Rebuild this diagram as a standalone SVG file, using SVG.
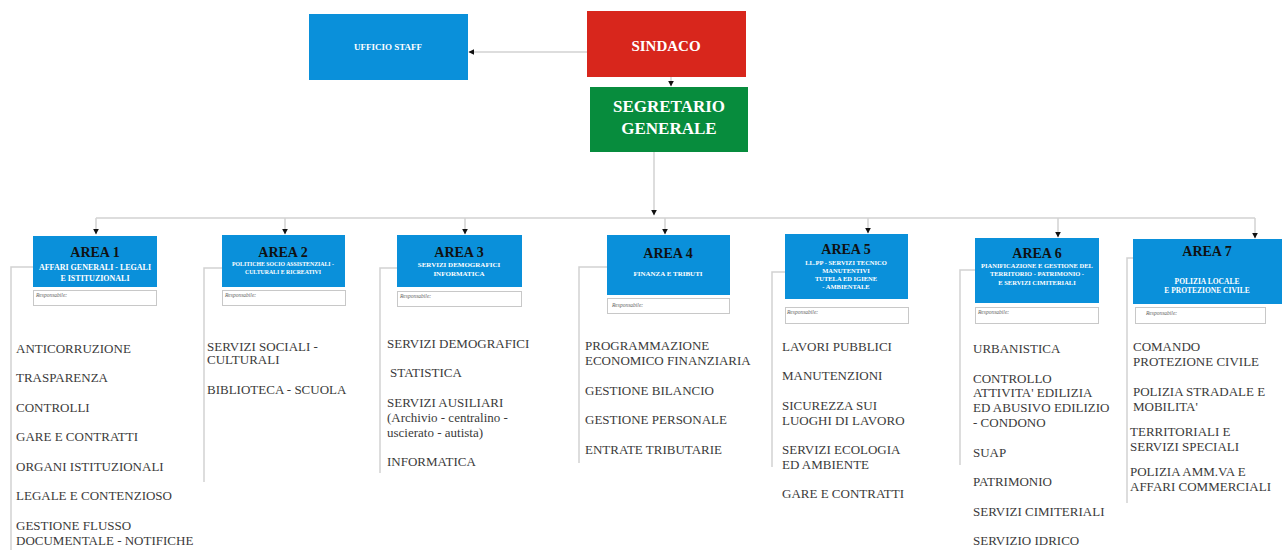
<svg xmlns="http://www.w3.org/2000/svg" width="1282" height="555" viewBox="0 0 1282 555">
<style>
.blue{fill:#0a90da}
.hdr{font-family:"Liberation Serif",serif;font-weight:bold;fill:#fff;text-anchor:middle}
.area{font-family:"Liberation Serif",serif;font-weight:bold;font-size:14px;fill:#111;text-anchor:middle}
.sub{font-family:"Liberation Serif",serif;font-weight:bold;fill:#fff;text-anchor:middle}
.resp{fill:#fff;stroke:#c8c8c8;stroke-width:1}
.rt{font-family:"Liberation Serif",serif;font-style:italic;font-size:5.5px;fill:#666}
.it{font-family:"Liberation Serif",serif;font-size:13px;fill:#3a3a3a}
.ln{fill:none;stroke:#d2d2d2;stroke-width:1.5}
.ar{fill:none;stroke:#d2d2d2;stroke-width:1.5;marker-end:url(#ah)}
</style>
<defs>
<marker id="ah" viewBox="0 0 10 10" refX="9" refY="5" markerWidth="6" markerHeight="6" markerUnits="userSpaceOnUse" orient="auto">
<path d="M0,0 L10,5 L0,10 Z" fill="#111"/>
</marker>
</defs>
<rect width="1282" height="555" fill="#fff"/>

<g id="connectors">
<path class="ar" d="M587,52 H469"/>
<path class="ar" d="M671,77 V86"/>
<path class="ar" d="M654,152 V215"/>
<path class="ln" d="M96,218 H1255"/>
<path class="ar" d="M96,218 V234"/>
<path class="ar" d="M285,218 V234"/>
<path class="ar" d="M465,218 V234"/>
<path class="ar" d="M665,218 V234"/>
<path class="ar" d="M868,218 V233"/>
<path class="ar" d="M1058,218 V237"/>
<path class="ar" d="M1255,218 V238"/>
<path class="ln" d="M33,267 H11 V550"/>
<path class="ln" d="M222,268 H204 V482"/>
<path class="ln" d="M397,268 H380 V473"/>
<path class="ln" d="M607,267 H579 V463"/>
<path class="ln" d="M785,272 H772 V467"/>
<path class="ln" d="M975,270 H960 V465"/>
<path class="ln" d="M1133,258 H1127 V503"/>
</g>

<g id="ufficio-staff">
<rect class="blue" x="309" y="14" width="159" height="66"/>
<text class="hdr" x="388" y="50" font-size="9">UFFICIO STAFF</text>
</g>
<g id="sindaco">
<rect x="587" y="11" width="159" height="66" fill="#d8261c"/>
<text class="hdr" x="666" y="51" font-size="15">SINDACO</text>
</g>
<g id="segretario">
<rect x="590" y="87" width="158" height="65" fill="#078c3d"/>
<text class="hdr" x="669" y="112" font-size="17">SEGRETARIO</text>
<text class="hdr" x="669" y="134" font-size="17">GENERALE</text>
</g>

<g id="area1">
<rect class="blue" x="33" y="236" width="124" height="51"/>
<text class="area" x="95" y="257">AREA 1</text>
<text class="sub" x="95" y="270" font-size="8">AFFARI GENERALI - LEGALI</text>
<text class="sub" x="95" y="281" font-size="8">E ISTITUZIONALI</text>
<rect class="resp" x="33.5" y="290.5" width="123" height="15"/>
<text class="rt" x="36" y="297">Responsabile:</text>
<text class="it" x="16" y="353">ANTICORRUZIONE</text>
<text class="it" x="16" y="382">TRASPARENZA</text>
<text class="it" x="16" y="412">CONTROLLI</text>
<text class="it" x="16" y="441">GARE E CONTRATTI</text>
<text class="it" x="16" y="471">ORGANI ISTITUZIONALI</text>
<text class="it" x="16" y="500">LEGALE E CONTENZIOSO</text>
<text class="it" x="16" y="530">GESTIONE FLUSSO</text>
<text class="it" x="16" y="545">DOCUMENTALE - NOTIFICHE</text>
</g>

<g id="area2">
<rect class="blue" x="222" y="235" width="123" height="52"/>
<text class="area" x="283" y="257">AREA 2</text>
<text class="sub" x="283" y="266" font-size="5.8">POLITICHE  SOCIO ASSISTENZIALI -</text>
<text class="sub" x="283" y="274" font-size="5.8">CULTURALI E RICREATIVI</text>
<rect class="resp" x="222.5" y="290.5" width="123" height="15"/>
<text class="rt" x="225" y="297">Responsabile:</text>
<text class="it" x="207" y="351">SERVIZI SOCIALI -</text>
<text class="it" x="207" y="364">CULTURALI</text>
<text class="it" x="207" y="394">BIBLIOTECA - SCUOLA</text>
</g>

<g id="area3">
<rect class="blue" x="397" y="235" width="125" height="52"/>
<text class="area" x="459" y="257">AREA 3</text>
<text class="sub" x="459" y="267" font-size="7">SERVIZI DEMOGRAFICI</text>
<text class="sub" x="459" y="276" font-size="7">INFORMATICA</text>
<rect class="resp" x="397.5" y="291.5" width="124" height="15"/>
<text class="rt" x="400" y="298">Responsabile:</text>
<text class="it" x="387" y="348">SERVIZI DEMOGRAFICI</text>
<text class="it" x="390" y="377">STATISTICA</text>
<text class="it" x="387" y="407">SERVIZI AUSILIARI</text>
<text class="it" x="387" y="422">(Archivio - centralino -</text>
<text class="it" x="387" y="437">uscierato - autista)</text>
<text class="it" x="387" y="466">INFORMATICA</text>
</g>

<g id="area4">
<rect class="blue" x="607" y="235" width="123" height="60"/>
<text class="area" x="668" y="258">AREA 4</text>
<text class="sub" x="668" y="276" font-size="7">FINANZA E TRIBUTI</text>
<rect class="resp" x="607.5" y="298.5" width="122" height="15"/>
<text class="rt" x="612" y="307">Responsabile:</text>
<text class="it" x="585" y="350">PROGRAMMAZIONE</text>
<text class="it" x="585" y="365">ECONOMICO FINANZIARIA</text>
<text class="it" x="585" y="395">GESTIONE BILANCIO</text>
<text class="it" x="585" y="424">GESTIONE PERSONALE</text>
<text class="it" x="585" y="454">ENTRATE TRIBUTARIE</text>
</g>

<g id="area5">
<rect class="blue" x="785" y="234" width="123" height="65"/>
<text class="area" x="846" y="254">AREA 5</text>
<text class="sub" x="846" y="265" font-size="6.5">LL.PP - SERVIZI TECNICO</text>
<text class="sub" x="846" y="273" font-size="6.5">MANUTENTIVI</text>
<text class="sub" x="846" y="281" font-size="6.5">TUTELA ED IGIENE</text>
<text class="sub" x="846" y="289" font-size="6.5">- AMBIENTALE</text>
<rect class="resp" x="785.5" y="307.5" width="123" height="16"/>
<text class="rt" x="787" y="314">Responsabile:</text>
<text class="it" x="782" y="351">LAVORI PUBBLICI</text>
<text class="it" x="782" y="380">MANUTENZIONI</text>
<text class="it" x="782" y="410">SICUREZZA SUI</text>
<text class="it" x="782" y="425">LUOGHI DI LAVORO</text>
<text class="it" x="782" y="454">SERVIZI ECOLOGIA</text>
<text class="it" x="782" y="469">ED AMBIENTE</text>
<text class="it" x="782" y="498">GARE E CONTRATTI</text>
</g>

<g id="area6">
<rect class="blue" x="975" y="238" width="124" height="65"/>
<text class="area" x="1037" y="258">AREA 6</text>
<text class="sub" x="1037" y="268" font-size="6.5">PIANIFICAZIONE E GESTIONE DEL</text>
<text class="sub" x="1037" y="276" font-size="6.5">TERRITORIO - PATRIMONIO -</text>
<text class="sub" x="1037" y="285" font-size="6.5">E SERVIZI CIMITERIALI</text>
<rect class="resp" x="975.5" y="307.5" width="123" height="16"/>
<text class="rt" x="978" y="314">Responsabile:</text>
<text class="it" x="973" y="353">URBANISTICA</text>
<text class="it" x="973" y="383">CONTROLLO</text>
<text class="it" x="973" y="397">ATTIVITA' EDILIZIA</text>
<text class="it" x="973" y="412">ED ABUSIVO EDILIZIO</text>
<text class="it" x="973" y="427">- CONDONO</text>
<text class="it" x="973" y="457">SUAP</text>
<text class="it" x="973" y="486">PATRIMONIO</text>
<text class="it" x="973" y="516">SERVIZI CIMITERIALI</text>
<text class="it" x="973" y="545">SERVIZIO IDRICO</text>
</g>

<g id="area7">
<rect class="blue" x="1133" y="239" width="149" height="65"/>
<text class="area" x="1207" y="256">AREA 7</text>
<text class="sub" x="1207" y="284" font-size="7.5">POLIZIA LOCALE</text>
<text class="sub" x="1207" y="293" font-size="7.5">E PROTEZIONE CIVILE</text>
<rect class="resp" x="1135.5" y="307.5" width="130" height="16"/>
<text class="rt" x="1146" y="315">Responsabile:</text>
<text class="it" x="1133" y="351">COMANDO</text>
<text class="it" x="1133" y="366">PROTEZIONE CIVILE</text>
<text class="it" x="1133" y="396">POLIZIA STRADALE E</text>
<text class="it" x="1133" y="411">MOBILITA'</text>
<text class="it" x="1130" y="436">TERRITORIALI E</text>
<text class="it" x="1130" y="451">SERVIZI SPECIALI</text>
<text class="it" x="1130" y="476">POLIZIA AMM.VA E</text>
<text class="it" x="1130" y="491">AFFARI COMMERCIALI</text>
</g>
</svg>
